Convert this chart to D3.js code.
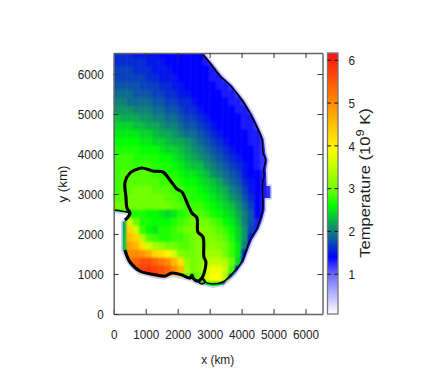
<!DOCTYPE html>
<html>
<head>
<meta charset="utf-8">
<script src="https://cdn.jsdelivr.net/npm/d3@7"></script>
<style>
  html, body { margin: 0; padding: 0; background: #fff; }
  text { font-family: "Liberation Sans", Arial, sans-serif; fill: #222; }
</style>
</head>
<body>
<div id="chart"></div>
<script>
// cell centres in km, rows run from top to bottom
const cellSize = 200;
const rowY = [6500,6300,6100,5900,5700,5500,5300,5100,4900,4700,4500,4300,4100,3900,3700,3500,3300,3100,2900,2700,2500,2300,2100,1900,1700,1500,1300,1100,900,700];
const colX = [100,300,500,700,900,1100,1300,1500,1700,1900,2100,2300,2500,2700,2900,3100,3300,3500,3700,3900,4100,4300,4500,4700,4900];

// temperature in 10^9 K
const tempRows = [
  [1.6,1.6,1.6,1.5,1.5,1.5,1.5,1.4,1.4,1.4,1.4,1.4,1.4,1.4,1.3,1.2],
  [1.6,1.6,1.6,1.6,1.6,1.5,1.5,1.5,1.4,1.4,1.4,1.4,1.4,1.4,1.3,1.2],
  [1.7,1.7,1.7,1.6,1.6,1.6,1.5,1.5,1.5,1.4,1.4,1.4,1.4,1.4,1.4,1.3,1.2],
  [1.7,1.7,1.7,1.7,1.7,1.6,1.6,1.5,1.5,1.5,1.4,1.4,1.4,1.4,1.4,1.3,1.3,1.2],
  [1.8,1.8,1.8,1.8,1.7,1.7,1.7,1.6,1.6,1.5,1.5,1.4,1.4,1.4,1.4,1.4,1.3,1.3,1.2],
  [1.9,1.9,1.9,1.8,1.8,1.8,1.7,1.7,1.6,1.6,1.5,1.5,1.4,1.4,1.4,1.4,1.4,1.3,1.3,1.2],
  [2.0,2.0,1.9,1.9,1.9,1.9,1.8,1.8,1.7,1.7,1.6,1.6,1.5,1.4,1.4,1.4,1.4,1.4,1.3,1.3,1.2],
  [2.1,2.1,2.1,2.0,2.0,2.0,1.9,1.9,1.8,1.8,1.7,1.6,1.6,1.5,1.4,1.4,1.4,1.4,1.4,1.3,1.3,1.2],
  [2.3,2.2,2.2,2.2,2.1,2.1,2.0,2.0,1.9,1.9,1.8,1.7,1.7,1.6,1.5,1.4,1.4,1.4,1.4,1.4,1.3,1.3,1.2],
  [2.4,2.4,2.4,2.3,2.3,2.2,2.2,2.1,2.0,2.0,1.9,1.8,1.8,1.7,1.6,1.5,1.4,1.4,1.4,1.4,1.3,1.3,1.2],
  [2.5,2.5,2.5,2.5,2.4,2.4,2.3,2.2,2.2,2.1,2.0,1.9,1.9,1.8,1.7,1.6,1.5,1.4,1.4,1.4,1.4,1.3,1.3,1.2],
  [2.6,2.6,2.6,2.6,2.5,2.5,2.4,2.4,2.3,2.2,2.2,2.1,2.0,1.9,1.8,1.7,1.6,1.5,1.4,1.4,1.4,1.3,1.3,1.2],
  [2.7,2.7,2.7,2.7,2.6,2.6,2.6,2.5,2.4,2.4,2.3,2.2,2.1,2.0,1.9,1.8,1.7,1.6,1.5,1.4,1.4,1.4,1.3,1.2,1.1],
  [2.8,2.8,2.8,2.7,2.7,2.7,2.7,2.6,2.6,2.5,2.4,2.3,2.2,2.1,2.0,1.9,1.8,1.7,1.6,1.5,1.4,1.4,1.3,1.2,1.1],
  [2.8,2.8,2.8,2.8,2.8,2.8,2.7,2.7,2.7,2.6,2.5,2.4,2.3,2.3,2.1,2.0,1.9,1.8,1.7,1.6,1.5,1.4,1.3,1.2,1.1],
  [2.8,2.9,2.9,2.9,2.9,2.9,2.8,2.8,2.7,2.7,2.6,2.5,2.5,2.4,2.3,2.1,2.0,1.9,1.8,1.7,1.5,1.4,1.4,1.3,1.1],
  [2.8,2.9,2.9,2.9,2.9,2.9,2.9,2.8,2.8,2.8,2.7,2.6,2.6,2.5,2.4,2.3,2.2,2.0,1.9,1.8,1.6,1.5,1.4,1.3,1.1],
  [2.8,2.9,2.9,3.0,3.0,3.0,2.9,2.9,2.9,2.8,2.8,2.7,2.7,2.6,2.5,2.4,2.3,2.2,2.0,1.9,1.7,1.5,1.4,1.3,1.2],
  [2.9,2.9,3.0,3.0,3.0,3.0,3.0,3.0,2.9,2.9,2.8,2.8,2.7,2.7,2.6,2.5,2.4,2.3,2.1,2.0,1.8,1.6,1.4,1.3,1.2],
  [3.0,3.0,3.0,3.0,3.0,3.0,3.0,3.0,3.0,2.9,2.9,2.8,2.8,2.8,2.7,2.6,2.5,2.4,2.3,2.1,1.9,1.7,1.4,1.3,1.2],
  [2.7,2.7,2.6,2.7,2.7,2.6,2.6,2.5,2.4,2.5,2.7,2.8,2.9,2.9,2.8,2.7,2.6,2.5,2.4,2.2,2.0,1.8,1.4,1.3],
  [2.2,2.2,3.6,3.0,2.7,2.7,2.6,2.6,2.6,2.7,2.8,2.9,3.0,3.0,3.0,2.9,2.8,2.6,2.5,2.3,2.0,1.8,1.3,1.2],
  [2.2,2.2,4.3,3.6,2.8,2.6,2.5,2.7,2.7,2.8,2.9,3.0,3.0,3.1,3.1,3.0,2.9,2.8,2.6,2.4,2.1,1.7,1.3],
  [2.3,2.3,4.5,4.3,3.4,2.9,2.8,2.7,2.7,2.8,2.8,2.9,3.0,3.1,3.1,3.1,3.0,2.9,2.7,2.4,2.1,1.5,1.3],
  [2.3,2.3,4.8,4.6,4.2,3.6,3.3,3.2,3.0,3.0,2.9,2.9,3.0,3.1,3.1,3.2,3.1,3.0,2.8,2.5,2.0,1.3],
  [2.3,2.4,5.0,5.0,4.9,4.7,4.3,4.2,4.0,3.6,3.1,3.0,3.0,3.1,3.3,3.3,3.3,3.0,2.8,2.5,1.6,1.3],
  [4.8,4.8,5.2,5.4,5.6,5.6,5.4,5.2,5.0,4.6,4.2,3.2,3.0,3.1,3.4,3.5,3.5,3.4,3.0,2.4,1.4],
  [5.0,5.0,5.3,5.6,5.7,5.8,5.7,5.6,5.4,5.0,4.6,3.3,3.0,3.2,3.6,3.8,3.8,3.5,2.8,1.5,1.3],
  [5.0,5.0,5.2,5.4,5.6,5.7,5.6,5.4,5.1,4.6,3.6,2.9,2.8,3.0,3.6,3.9,3.9,3.4,1.8,1.3],
  [5.0,5.0,5.2,5.4,5.5,5.5,5.5,5.3,5.0,4.5,3.4,2.6,1.8,2.0,2.4,2.6,2.4,1.7,1.3]
];

// colour bar stops, value -> colour
const colorStops = [0.07,1.0,1.4,2.0,2.6,3.0,3.9,5.0,6.17];
const colorValues = ['#ffffff','#6a6aff','#0000ff','#10807a','#00ff00','#70ff00','#ffff00','#ff8c00','#ff1010'];

const xTicks = [0,1000,2000,3000,4000,5000,6000];
const yTicks = [0,1000,2000,3000,4000,5000,6000];
const barTicks = [1,2,3,4,5,6];

// contours in km
const thickContour = [[353,2350],[447,2425],[509,2525],[416,2650],[384,2925],[353,3300],[509,3525],[666,3600],[884,3650],[1228,3575],[1541,3550],[1759,3350],[1978,3125],[2134,3050],[2322,2725],[2447,2525],[2603,2400],[2634,2050],[2791,1925],[2822,1425],[2884,1300],[2853,1100],[2759,900],[2634,825],[2478,900],[2447,975],[2384,900],[2134,975],[1822,1025],[1603,950],[1353,975],[822,1075],[509,1300],[353,1600]];
const thinContour = [[2750,6525],[3009,6275],[3322,5950],[3634,5725],[4009,5350],[4259,5025],[4416,4775],[4634,4375],[4675,4025],[4750,3850],[4688,3600],[4706,3475],[4656,3275],[4656,2600],[4572,2350],[4469,2125],[4259,1850],[4000,1300],[3728,1025],[3416,800],[3103,750],[2853,800],[2759,900]];
const notchLine = [[0,2600],[416,2550],[509,2525]];
const smallLoop = [[2697,875],[2822,875],[2853,800],[2759,750],[2665,800],[2697,875]];

// outline of the filled area, just outside the contours
const fieldEdge = [[-100,6700],[2800,6700],[2800,6525],[3060,6275],[3380,5950],[3690,5725],[4060,5350],[4310,5025],[4470,4775],[4690,4375],[4740,4025],[4810,3850],[4760,3600],[4780,3200],[4900,3200],[4900,2900],[4720,2900],[4720,2600],[4640,2350],[4530,2125],[4320,1850],[4060,1300],[3790,1000],[3440,740],[3103,690],[2853,740],[2600,780],[2450,850],[2134,920],[1822,970],[1603,900],[1353,920],[800,1030],[470,1270],[310,1550],[280,1600],[280,2300],[340,2330],[440,2400],[470,2520],[0,2570],[-100,2570]];

const width = 436, height = 382;
const margin = {left: 113.7, right: 322.5, top: 53, bottom: 314};

const svg = d3.select('#chart').append('svg')
    .attr('width', width)
    .attr('height', height)
    .style('display', 'block');

const x = d3.scaleLinear().domain([0, 6530]).range([margin.left, margin.right]);
const y = d3.scaleLinear().domain([0, 6525]).range([margin.bottom, margin.top]);
const color = d3.scaleLinear().domain(colorStops).range(colorValues).clamp(true);
const barY = d3.scaleLinear().domain([0.07, 6.17]).range([margin.bottom, margin.top]);

const edgePath = d3.line().x(d => x(d[0])).y(d => y(d[1]));

const defs = svg.append('defs');
defs.append('clipPath').attr('id', 'plot-clip').append('rect')
    .attr('x', margin.left).attr('y', margin.top)
    .attr('width', margin.right - margin.left).attr('height', margin.bottom - margin.top);
defs.append('clipPath').attr('id', 'field-clip').append('path')
    .attr('d', edgePath(fieldEdge) + 'Z');
const blur = defs.append('filter').attr('id', 'soft')
    .attr('filterUnits', 'userSpaceOnUse')
    .attr('x', 80).attr('y', 20).attr('width', 280).attr('height', 320)
    .attr('color-interpolation-filters', 'sRGB');
blur.append('feGaussianBlur').attr('stdDeviation', 1.3);

const plot = svg.append('g').attr('clip-path', 'url(#plot-clip)');

// pale rim round the filled area
plot.append('path')
    .attr('d', edgePath(fieldEdge.slice(2)))
    .attr('fill', 'none')
    .attr('stroke', '#d2d2ff')
    .attr('stroke-width', 3.5)
    .attr('stroke-linejoin', 'round');

// 1. heat map cells, outer row and column run past the frame so the blur stays even
const cells = [];
tempRows.forEach((row, r) => row.forEach((v, c) => {
    cells.push({x: colX[c], y: rowY[r], v, r, c});
}));

const half = cellSize / 2;
plot.append('g').attr('clip-path', 'url(#field-clip)')
  .append('g').attr('filter', 'url(#soft)')
  .selectAll('rect')
  .data(cells)
  .enter().append('rect')
    .attr('x', d => x(d.c === 0 ? -400 : d.x - half))
    .attr('y', d => y(d.r === 0 ? 7000 : d.y + half))
    .attr('width', d => x(d.x + half) - x(d.c === 0 ? -400 : d.x - half))
    .attr('height', d => y(d.y - half) - y(d.r === 0 ? 7000 : d.y + half))
    .attr('fill', d => color(d.v))
    .attr('stroke', d => color(d.v))
    .attr('stroke-width', 0.4);

// 2. contours
const line = d3.line().x(d => x(d[0])).y(d => y(d[1])).curve(d3.curveCatmullRom.alpha(0.5));
const contours = plot.append('g').attr('fill', 'none').attr('stroke', '#000');
contours.append('path').attr('d', line(thinContour)).attr('stroke-width', 1.5);
contours.append('path').attr('d', line(notchLine)).attr('stroke-width', 1.6);
contours.append('path').attr('d', line(smallLoop)).attr('stroke-width', 1.4);
contours.append('path').attr('d', line(thickContour)).attr('stroke-width', 3.1).attr('stroke-linejoin', 'round');

// 3. axes, ticks point inwards like the original
function styleAxis(g) {
    g.select('.domain').attr('stroke', '#666').attr('stroke-width', 1.5);
    g.selectAll('.tick line').attr('stroke', '#333').attr('stroke-width', 1);
    g.selectAll('.tick text')
        .attr('font-size', 13)
        .attr('fill', '#222')
        .attr('lengthAdjust', 'spacingAndGlyphs')
        .attr('textLength', function() { return this.textContent.length * 6.5; })
        .style('font-family', '"Liberation Sans", Arial, sans-serif');
}

svg.append('g').attr('transform', `translate(0,${margin.bottom})`)
    .call(d3.axisBottom(x).tickValues(xTicks).tickSizeInner(-5).tickSizeOuter(0).tickPadding(16).tickFormat(d3.format('d')))
    .call(styleAxis);
svg.append('g').attr('transform', `translate(0,${margin.top})`)
    .call(d3.axisTop(x).tickValues(xTicks.slice(1)).tickSizeInner(-5).tickSizeOuter(0).tickFormat(''))
    .call(styleAxis);
svg.append('g').attr('transform', `translate(${margin.left},0)`)
    .call(d3.axisLeft(y).tickValues(yTicks).tickSizeInner(-5).tickSizeOuter(0).tickPadding(10).tickFormat(d3.format('d')))
    .call(styleAxis);
svg.append('g').attr('transform', `translate(${margin.right},0)`)
    .call(d3.axisRight(y).tickValues(yTicks.slice(1)).tickSizeInner(-5).tickSizeOuter(0).tickFormat(''))
    .call(styleAxis);

// 4. colour bar
const barLeft = 327.5, barRight = 338;
svg.append('g').selectAll('rect')
  .data(d3.range(margin.top, margin.bottom, 1))
  .enter().append('rect')
    .attr('x', barLeft).attr('y', d => d)
    .attr('width', barRight - barLeft).attr('height', 1.2)
    .attr('fill', d => color(barY.invert(d + 0.5)));
svg.append('rect')
    .attr('x', barLeft).attr('y', margin.top)
    .attr('width', barRight - barLeft).attr('height', margin.bottom - margin.top)
    .attr('fill', 'none').attr('stroke', '#777').attr('stroke-width', 1.3);

const barTick = svg.append('g').selectAll('g').data(barTicks).enter().append('g')
    .attr('transform', d => `translate(0,${barY(d)})`);
barTick.append('line').attr('x1', barLeft).attr('x2', barLeft + 3.5).attr('stroke', '#111');
barTick.append('line').attr('x1', barRight - 3.5).attr('x2', barRight).attr('stroke', '#111');
barTick.append('text')
    .attr('x', 348.5).attr('dy', '0.36em')
    .attr('text-anchor', 'start').attr('font-size', 13)
    .attr('lengthAdjust', 'spacingAndGlyphs').attr('textLength', 6.5)
    .text(d => d);

// 5. axis titles
svg.append('text').attr('x', 217.7).attr('y', 363.5).attr('text-anchor', 'middle').attr('font-size', 13)
    .attr('lengthAdjust', 'spacingAndGlyphs').attr('textLength', 33).text('x (km)');
svg.append('text').attr('transform', 'translate(67,184) rotate(-90)').attr('text-anchor', 'middle').attr('font-size', 13)
    .attr('lengthAdjust', 'spacingAndGlyphs').attr('textLength', 37).text('y (km)');

const barTitle = svg.append('text').attr('transform', 'translate(369.5,183) rotate(-90) scale(1.18,1)').attr('text-anchor', 'middle').attr('font-size', 14);
barTitle.append('tspan').text('Temperature (10');
barTitle.append('tspan').attr('dy', -5.5).attr('font-size', 11).text('9');
barTitle.append('tspan').attr('dy', 5.5).text(' K)');
</script>
</body>
</html>
